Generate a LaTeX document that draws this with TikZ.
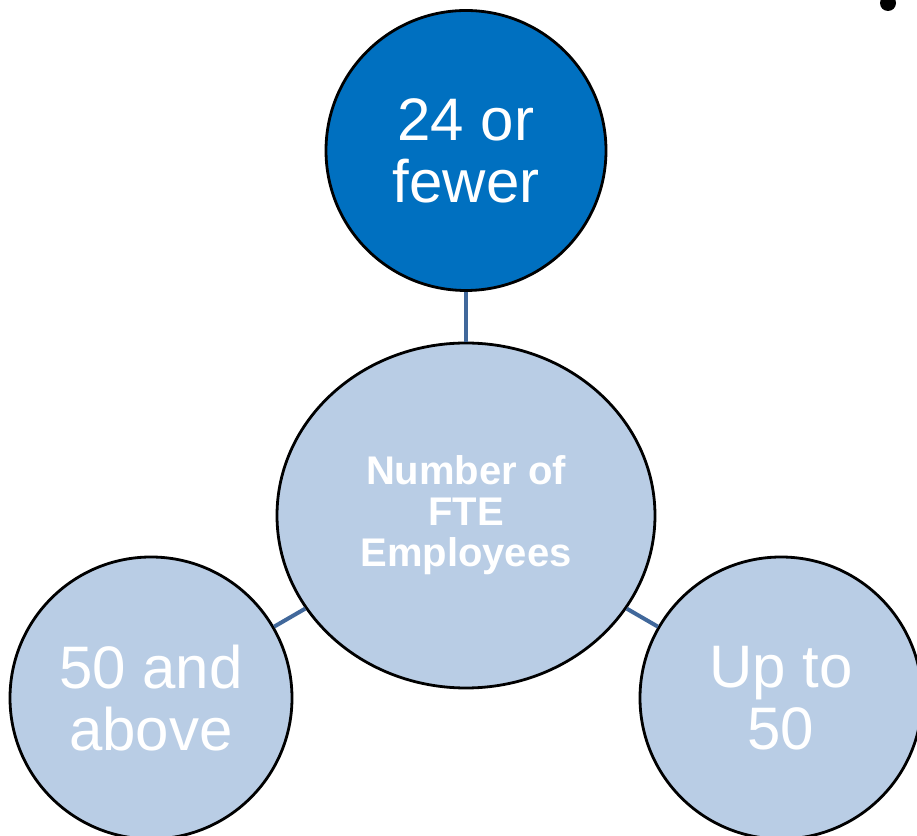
\documentclass[tikz,border=0pt]{standalone}
\usepackage{fontspec}
\setmainfont{Liberation Sans}
\usetikzlibrary{shapes.geometric}
\definecolor{sizeblue}{RGB}{0,112,192}
\definecolor{paleblue}{RGB}{185,205,229}
\definecolor{linkblue}{RGB}{65,104,155}

\begin{document}
\begin{tikzpicture}[x=0.5pt, y=0.5pt,
	bubble/.style = {circle, draw=black, line width=1.4pt, fill=paleblue, text=white, align=center, inner sep=0pt, minimum size=141pt, font=\fontsize{30}{31}\selectfont},
	link/.style = {linkblue, line width=2pt}]
	\useasboundingbox (0,0) rectangle (917,836);
	\node [bubble, ellipse, minimum width=189pt, minimum height=172.5pt, font=\bfseries\fontsize{20}{20.5}\selectfont] (hub) at (466, 320.5) {Number of\\FTE\\Employees};
	\node [bubble, fill=sizeblue, minimum size=140pt] (few) at (466, 685.5) {24 or\\fewer};
	\node [bubble] (above) at (151, 138) {50 and\\above};
	\node [bubble] (upto) at (781, 138) {Up to\\50};
	\draw [link] (hub) -- (few);
	\draw [link] (hub) -- (above);
	\draw [link] (hub) -- (upto);
	\fill (888, 833) circle (4pt);
\end{tikzpicture}
\end{document}
